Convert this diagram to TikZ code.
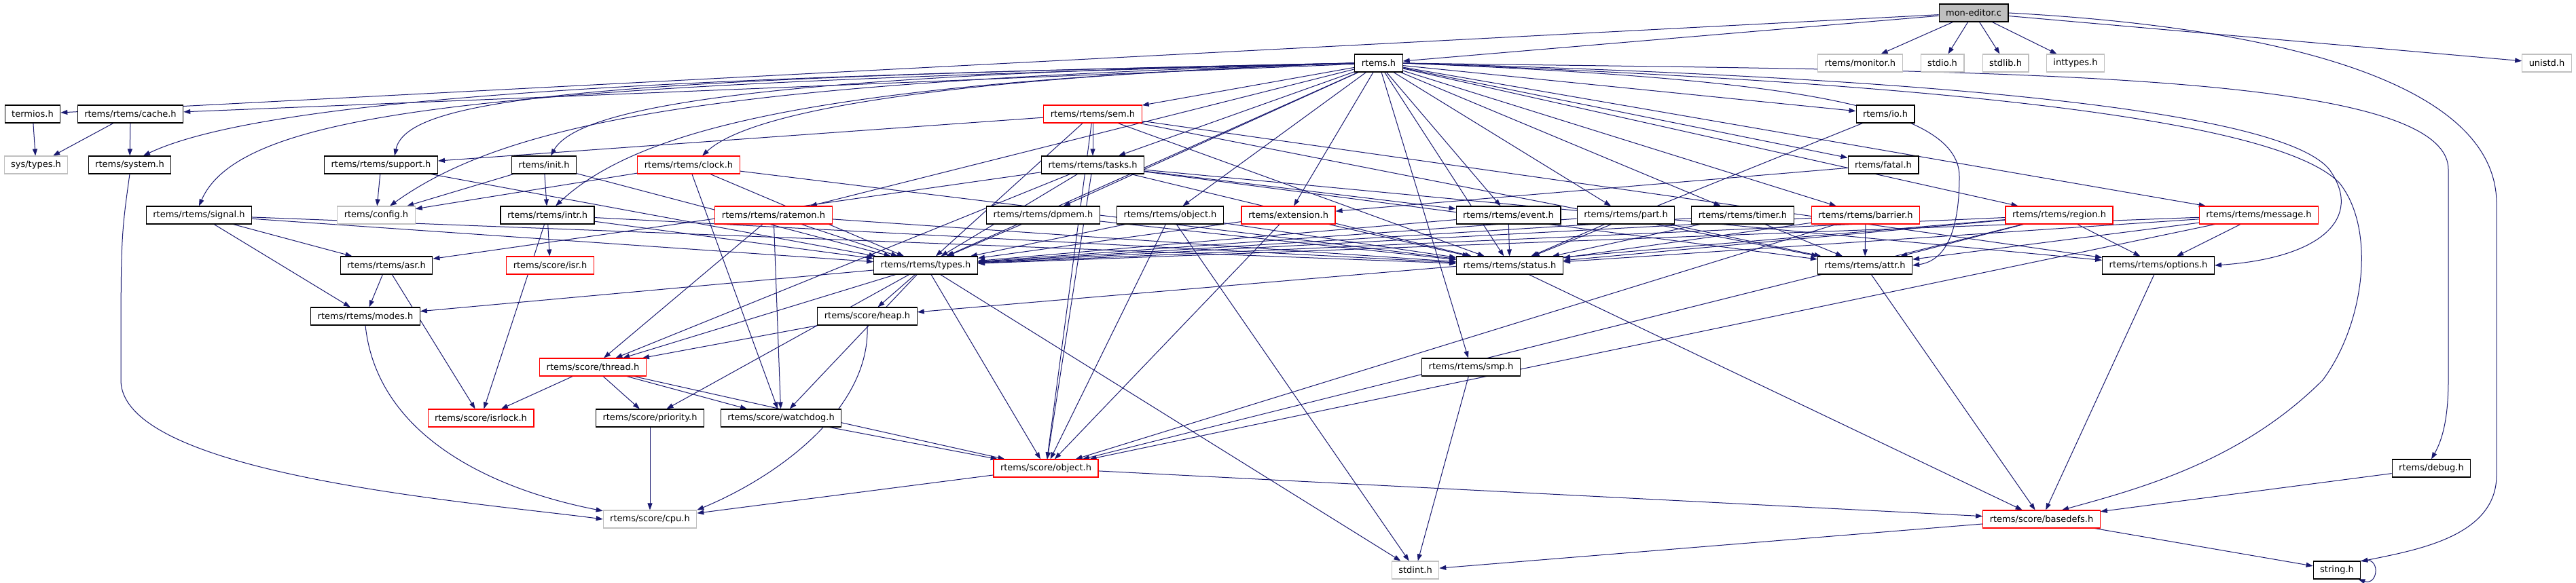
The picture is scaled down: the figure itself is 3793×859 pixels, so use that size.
\documentclass[tikz,border=0pt]{standalone}
\usepackage{fontspec}
\setmainfont{DejaVu Sans}
\usetikzlibrary{arrows.meta}
\definecolor{edgeblue}{HTML}{191970}
\definecolor{lgray}{HTML}{BFBFBF}
\definecolor{boxred}{HTML}{FF0000}
\pgfdeclarelayer{bg}
\pgfdeclarelayer{paper}
\pgfsetlayers{paper,bg,main}
\begin{document}
\begin{tikzpicture}[x=1pt,y=-1pt,
  box/.style={draw=black, line width=1.1pt, fill=white, minimum height=26pt, inner xsep=10pt, inner ysep=0pt, font=\fontsize{13}{15}\selectfont},
  rbox/.style={box, draw=boxred},
  gbox/.style={box, draw=lgray},
  e/.style={draw=edgeblue, line width=1pt, -{Triangle[length=10pt,width=7pt]}}]
\useasboundingbox (0,0) rectangle (3793,859);
\begin{pgfonlayer}{paper}
\fill[white] (0,0) rectangle (3793,859);
\end{pgfonlayer}
% nodes
\node[box,fill=lgray] (mon) at (2906,19) {mon-editor.c};
\node[box] (rtemsh) at (2030,93) {rtems.h};
\node[gbox] (monitor) at (2739,93) {rtems/monitor.h};
\node[gbox] (stdio) at (2860,93) {stdio.h};
\node[gbox] (stdlib) at (2953,93) {stdlib.h};
\node[gbox] (inttypes) at (3056,93) {inttypes.h};
\node[gbox] (unistd) at (3750,93) {unistd.h};
\node[box] (termios) at (48,168) {termios.h};
\node[box] (cache) at (192,168) {rtems/rtems/cache.h};
\node[rbox] (sem) at (1609,168) {rtems/rtems/sem.h};
\node[box] (io) at (2776,168) {rtems/io.h};
\node[gbox] (systypes) at (53,243) {sys/types.h};
\node[box] (system) at (191,243) {rtems/system.h};
\node[box] (support) at (561,243) {rtems/rtems/support.h};
\node[box] (init) at (801,243) {rtems/init.h};
\node[rbox] (clock) at (1014,243) {rtems/rtems/clock.h};
\node[box] (tasks) at (1609,243) {rtems/rtems/tasks.h};
\node[box] (fatal) at (2773,243) {rtems/fatal.h};
\node[box] (signal) at (293,317) {rtems/rtems/signal.h};
\node[gbox] (config) at (554,317) {rtems/config.h};
\node[box] (intr) at (806,317) {rtems/rtems/intr.h};
\node[rbox] (ratemon) at (1139,317) {rtems/rtems/ratemon.h};
\node[box] (dpmem) at (1536,317) {rtems/rtems/dpmem.h};
\node[box] (robject) at (1723,317) {rtems/rtems/object.h};
\node[rbox] (extension) at (1897,317) {rtems/extension.h};
\node[box] (event) at (2221,317) {rtems/rtems/event.h};
\node[box] (part) at (2394,317) {rtems/rtems/part.h};
\node[box] (timer) at (2566,317) {rtems/rtems/timer.h};
\node[rbox] (barrier) at (2747,317) {rtems/rtems/barrier.h};
\node[rbox] (region) at (3032,317) {rtems/rtems/region.h};
\node[rbox] (message) at (3326,317) {rtems/rtems/message.h};
\node[box] (asr) at (569,391) {rtems/rtems/asr.h};
\node[rbox] (isr) at (810,391) {rtems/score/isr.h};
\node[box] (types) at (1363,391) {rtems/rtems/types.h};
\node[box] (status) at (2223,391) {rtems/rtems/status.h};
\node[box] (attr) at (2746,391) {rtems/rtems/attr.h};
\node[box] (options) at (3178,391) {rtems/rtems/options.h};
\node[box] (modes) at (538,466) {rtems/rtems/modes.h};
\node[box] (heap) at (1277,466) {rtems/score/heap.h};
\node[rbox] (thread) at (873,541) {rtems/score/thread.h};
\node[box] (smp) at (2166,541) {rtems/rtems/smp.h};
\node[rbox] (isrlock) at (708,616) {rtems/score/isrlock.h};
\node[box] (priority) at (957,616) {rtems/score/priority.h};
\node[box] (watchdog) at (1150,616) {rtems/score/watchdog.h};
\node[rbox] (sobject) at (1540,690) {rtems/score/object.h};
\node[box] (debug) at (3580,690) {rtems/debug.h};
\node[gbox] (cpu) at (957,765) {rtems/score/cpu.h};
\node[rbox] (basedefs) at (3006,765) {rtems/score/basedefs.h};
\node[gbox] (stdint) at (2084,840) {stdint.h};
\node[box] (string) at (3441,840) {string.h};
% edges
\begin{pgfonlayer}{bg}
\foreach \a/\b in {mon/rtemsh, mon/monitor, mon/stdio, mon/stdlib, mon/inttypes, mon/unistd, mon/termios,
  termios/systypes, cache/systypes, cache/system,
  rtemsh/cache, rtemsh/sem, rtemsh/tasks, rtemsh/ratemon, rtemsh/dpmem, rtemsh/robject, rtemsh/extension,
  rtemsh/event, rtemsh/part, rtemsh/timer, rtemsh/barrier, rtemsh/status, rtemsh/io, rtemsh/fatal,
  rtemsh/region, rtemsh/message, rtemsh/smp, rtemsh/types,
  io/status, fatal/extension,
  sem/support, sem/tasks, sem/types, sem/status, sem/attr, sem/sobject, sem/options,
  support/config, support/types,
  init/config, init/intr, init/types,
  clock/config, clock/types, clock/status, clock/watchdog,
  tasks/asr, tasks/types, tasks/status, tasks/attr, tasks/sobject, tasks/thread, tasks/event, tasks/options,
  signal/asr, signal/modes, signal/types, signal/status,
  intr/isr, intr/isrlock, intr/types, intr/status,
  ratemon/types, ratemon/status, ratemon/thread, ratemon/watchdog,
  dpmem/types, dpmem/status,
  robject/types, robject/status, robject/sobject, robject/stdint,
  extension/types, extension/status, extension/sobject,
  event/types, event/status,
  part/types, part/status, part/attr,
  timer/types, timer/status, timer/attr,
  barrier/types, barrier/status, barrier/attr, barrier/sobject,
  region/types, region/status, region/attr, region/options, region/heap, region/sobject,
  message/types, message/status, message/attr, message/options, message/sobject,
  asr/modes, asr/isrlock,
  types/modes, types/heap, types/priority, types/watchdog, types/sobject, types/stdint, types/thread,
  status/basedefs, attr/basedefs, options/basedefs,
  heap/thread,
  thread/isrlock, thread/priority, thread/watchdog, thread/sobject,
  smp/stdint, priority/cpu, watchdog/sobject, sobject/cpu, sobject/basedefs,
  debug/basedefs, basedefs/stdint, basedefs/string}
  \draw[e] (\a) -- (\b);
% curved connectors
\draw[e] (rtemsh.west) .. controls (1200,110) and (420,130) .. ([xshift=20pt]system.north);
\draw[e] (rtemsh.west) .. controls (900,115) and (600,140) .. ([xshift=20pt]support.north);
\draw[e] (rtemsh.west) .. controls (800,125) and (360,150) .. (signal.north);
\draw[e] (rtemsh.west) .. controls (1100,120) and (760,170) .. ([xshift=20pt]config.north);
\draw[e] (rtemsh.west) .. controls (1100,110) and (850,160) .. ([xshift=10pt]init.north);
\draw[e] (rtemsh.west) .. controls (1250,120) and (950,180) .. ([xshift=12pt]intr.north);
\draw[e] (rtemsh.west) .. controls (1500,110) and (1120,150) .. ([xshift=20pt]clock.north);
\draw[e] (rtemsh.east) .. controls (2600,115) and (2885,150) .. (2885,260) .. controls (2885,350) and (2860,385) .. (attr.east);
\draw[e] (rtemsh.east) .. controls (2700,110) and (3350,150) .. (3430,250) .. controls (3480,320) and (3420,380) .. (options.east);
\draw[e] (rtemsh.east) .. controls (2900,105) and (3605,100) .. (3605,250) -- (3605,560) .. controls (3605,620) and (3595,650) .. (debug.north);
\draw[e] (rtemsh.east) .. controls (2800,120) and (3350,170) .. (3445,270) .. controls (3500,340) and (3480,480) .. (3420,560) .. controls (3300,680) and (3150,720) .. ([xshift=30pt]basedefs.north);
\draw[e] (mon.east) .. controls (3350,40) and (3676,120) .. (3676,300) -- (3676,700) .. controls (3676,790) and (3560,810) .. (string.20);
\draw[e] (system.south) .. controls (178,350) .. (178,560) .. controls (178,700) and (700,740) .. (cpu.west);
\draw[e] (modes.south) .. controls (555,640) and (720,720) .. (cpu.170);
\draw[e] (heap.south) .. controls (1282,600) and (1150,700) .. (cpu.north east);
\draw[e] (string.north east) .. controls +(30,-10) and +(30,10) .. ([xshift=-4pt]string.south east);
\end{pgfonlayer}
\end{tikzpicture}
\end{document}
